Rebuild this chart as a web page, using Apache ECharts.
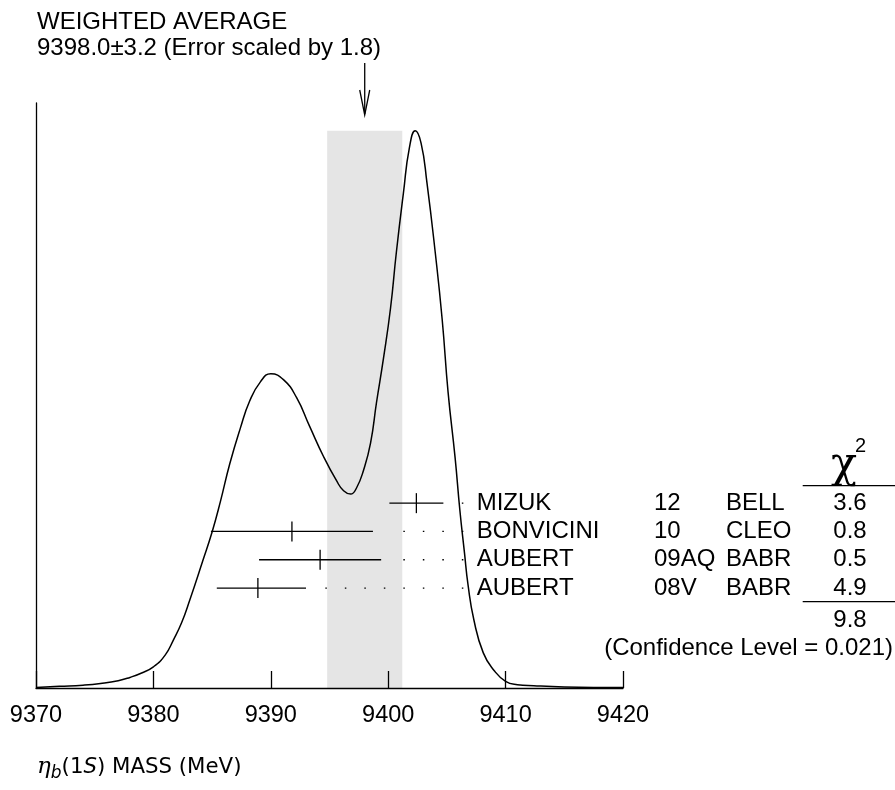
<!DOCTYPE html>
<html><head><meta charset="utf-8">
<script src="https://cdn.jsdelivr.net/npm/echarts@6/dist/echarts.min.js"></script>
<style>html,body{margin:0;padding:0;background:#fff}#c{width:895px;height:790px}</style>
</head><body><div id="c"></div>
<script>
// ---------------- data ----------------
const massMin = 9370, massMax = 9420, massStep = 10;

// ideogram curve (relative height, peak = 100)
const curveMass = [9370, 9372, 9374, 9375.5, 9377, 9378, 9379, 9380,
  9381, 9381.7, 9382.4, 9383.1, 9384.2, 9385, 9385.7, 9386.5, 9387.4, 9388.2,
  9389.1, 9390, 9391.1, 9392.2, 9393.3, 9394.5, 9395.6, 9396.2, 9396.8, 9397.3,
  9397.9, 9398.5, 9399, 9399.6, 9400.2, 9400.7, 9401.3, 9401.8, 9402.3, 9402.8,
  9403.3, 9404, 9404.6, 9405.1, 9405.7, 9406.1, 9406.5, 9406.8, 9407.3, 9408.1,
  9409, 9410, 9411, 9412.4, 9415, 9420];
const curveDensity = [0.1, 0.3, 0.5, 0.8, 1.3, 1.9, 2.7, 3.8,
  5.9, 8.6, 11.7, 15.8, 22.8, 28.0, 33.4, 40.2, 46.6, 51.5,
  54.9, 56.4, 55.3, 52.1, 47.0, 41.5, 37.2, 35.4, 34.8, 35.9,
  39.1, 44.0, 51.2, 59.2, 68.2, 78.3, 88.9, 96.9, 100, 97.8,
  90.7, 78.3, 66.1, 53.1, 41.3, 32.0, 24.2, 18.5, 12.2, 6.3,
  3.2, 1.2, 0.6, 0.4, 0.2, 0.1];

const expNames   = ['MIZUK', 'BONVICINI', 'AUBERT', 'AUBERT'];
const expYears   = ['12', '10', '09AQ', '08V'];
const expCollab  = ['BELL', 'CLEO', 'BABR', 'BABR'];
const expValue   = [9402.4, 9391.8, 9394.2, 9388.9];
const expErrLow  = [2.3, 6.9, 5.2, 3.5];
const expErrHigh = [2.3, 6.9, 5.2, 4.1];
const expChi2    = ['3.6', '0.8', '0.5', '4.9'];

const chi2Total = '9.8';
const confLevel = '0.021';
const avgValue = 9398.0, avgError = 3.2, errScale = 1.8;

// ---------------- layout / style ----------------
const FONT = '"Liberation Sans", Arial, Helvetica, sans-serif';
const GRID = {left: 36, right: 272, top: 103, bottom: 102};
const ROW_TOP = 489, ROW_H = 28.3;
const LEADER_END = 9406.4;
const COL_NAME = 476.7, COL_YEAR = 654, COL_COLLAB = 726, COL_CHI_R = 866.7;
const LW = 1.3;

const chart = echarts.init(document.getElementById('c'), null, {renderer: 'canvas'});

const curveData = curveMass.map((m, i) => [m, curveDensity[i]]);
const peak = Math.max.apply(null, curveDensity);

const rowData = expNames.map((n, i) => [expValue[i], i, expValue[i] - expErrLow[i], expValue[i] + expErrHigh[i]]);

function txt(text, x, y, align, size) {
  return {type: 'text', style: {text: text, x: x, y: y, fill: '#000',
    font: (size || 24) + 'px ' + FONT, align: align || 'left', verticalAlign: 'middle'}};
}

const option = {
  animation: false,
  backgroundColor: '#fff',
  grid: [
    Object.assign({outerBoundsMode: 'none', containLabel: false}, GRID),
    {left: GRID.left, right: GRID.right, top: ROW_TOP, height: ROW_H * expNames.length, outerBoundsMode: 'none', containLabel: false}
  ],
  xAxis: [
    {type: 'value', gridIndex: 0, min: massMin, max: massMax, interval: massStep, z: 10,
      axisLine: {show: true, onZero: false, lineStyle: {color: '#000', width: LW}},
      axisTick: {show: true, inside: true, length: 17, lineStyle: {color: '#000', width: LW}},
      axisLabel: {show: true, color: '#000', fontSize: 23.5, fontFamily: FONT, margin: 16,
        showMinLabel: true, showMaxLabel: true, formatter: v => String(v)},
      splitLine: {show: false}},
    {type: 'value', gridIndex: 1, min: massMin, max: massMax, show: false}
  ],
  yAxis: [
    {type: 'value', gridIndex: 0, min: 0, max: 105, z: 10,
      axisLine: {show: true, lineStyle: {color: '#000', width: LW}},
      axisTick: {show: false}, axisLabel: {show: false}, splitLine: {show: false}},
    {type: 'category', gridIndex: 1, inverse: true, data: expNames.map((n, i) => i), show: false}
  ],
  series: [
    {
      type: 'line', xAxisIndex: 0, yAxisIndex: 0, data: curveData,
      showSymbol: false, symbol: 'none', smooth: 0.5,
      lineStyle: {color: '#000', width: 1.5}, z: 3,
      markArea: {silent: true, itemStyle: {color: '#e5e5e5'},
        data: [[{xAxis: avgValue - avgError, yAxis: 0}, {xAxis: avgValue + avgError, yAxis: peak}]]}
    },
    {
      type: 'custom', xAxisIndex: 0, yAxisIndex: 0, clip: false, z: 4,
      data: [[avgValue, peak]],
      renderItem: function (params, api) {
        const x = api.coord([api.value(0), 0])[0];
        const st = {stroke: '#000', lineWidth: LW, fill: 'none'};
        return {type: 'group', children: [
          {type: 'line', shape: {x1: x, y1: 63, x2: x, y2: 114}, style: st},
          {type: 'polyline', shape: {points: [[x - 5, 90], [x, 115], [x + 5, 90]]}, style: st}
        ]};
      }
    },
    {
      type: 'custom', xAxisIndex: 1, yAxisIndex: 1, clip: false, z: 5,
      data: rowData,
      encode: {x: [0, 2, 3], y: 1},
      renderItem: function (params, api) {
        const i = api.value(1);
        const c = api.coord([api.value(0), i]);
        const lo = api.coord([api.value(2), i])[0];
        const hi = api.coord([api.value(3), i])[0];
        const dotEnd = api.coord([LEADER_END, i])[0];
        const y = c[1];
        const st = {stroke: '#000', lineWidth: LW};
        return {type: 'group', children: [
          {type: 'line', shape: {x1: lo, y1: y, x2: hi, y2: y}, style: st},
          {type: 'line', shape: {x1: c[0], y1: y - 10, x2: c[0], y2: y + 10}, style: st},
          {type: 'line', shape: {x1: dotEnd, y1: y, x2: hi + 15, y2: y},
            style: {stroke: '#000', lineWidth: LW, lineDash: [1.5, 18]}},
          txt(expNames[i], COL_NAME, y),
          txt(expYears[i], COL_YEAR, y),
          txt(expCollab[i], COL_COLLAB, y),
          txt(expChi2[i], COL_CHI_R, y, 'right')
        ]};
      }
    }
  ],
  graphic: [
    {type: 'text', left: 37, top: 10, style: {text: 'WEIGHTED AVERAGE', fill: '#000', font: '24px ' + FONT}},
    {type: 'text', left: 37, top: 36, style: {text: avgValue.toFixed(1) + '\u00b1' + avgError.toFixed(1) + ' (Error scaled by ' + errScale.toFixed(1) + ')', fill: '#000', font: '24px ' + FONT}},
    {type: 'text', x: 831, y: 466, style: {text: '\u03c7', fill: '#000', font: '43px "DejaVu Serif", serif', align: 'left', verticalAlign: 'middle'}},
    {type: 'text', x: 855, y: 446, style: {text: '2', fill: '#000', font: '20px ' + FONT, align: 'left', verticalAlign: 'middle'}},
    {type: 'line', shape: {x1: 802.7, y1: 485.7, x2: 895, y2: 485.7}, style: {stroke: '#000', lineWidth: LW}},
    {type: 'line', shape: {x1: 802.7, y1: 601.7, x2: 895, y2: 601.7}, style: {stroke: '#000', lineWidth: LW}},
    {type: 'text', x: COL_CHI_R, y: 620, style: {text: chi2Total, fill: '#000', font: '24px ' + FONT, align: 'right', verticalAlign: 'middle'}},
    {type: 'text', x: 893, y: 648, style: {text: '(Confidence Level = ' + confLevel + ')', fill: '#000', font: '24px ' + FONT, align: 'right', verticalAlign: 'middle'}},
    {type: 'text', x: 37, y: 767, style: {
      text: '{eta|\u03b7}{sub|b}{n|(1}{it|S}{n|) MASS (MeV)}', fill: '#000', verticalAlign: 'middle',
      rich: {
        eta: {fontFamily: '"DejaVu Serif"', fontStyle: 'italic', fontSize: 23, lineHeight: 30, verticalAlign: 'middle'},
        sub: {fontFamily: '"DejaVu Sans"', fontStyle: 'italic', fontSize: 17, lineHeight: 30, verticalAlign: 'bottom'},
        n: {fontFamily: '"DejaVu Sans"', fontSize: 21.3, lineHeight: 30, verticalAlign: 'middle'},
        it: {fontFamily: '"DejaVu Sans"', fontStyle: 'italic', fontSize: 21.3, lineHeight: 30, verticalAlign: 'middle'}
      }}}
  ]
};
chart.setOption(option);
</script></body></html>
